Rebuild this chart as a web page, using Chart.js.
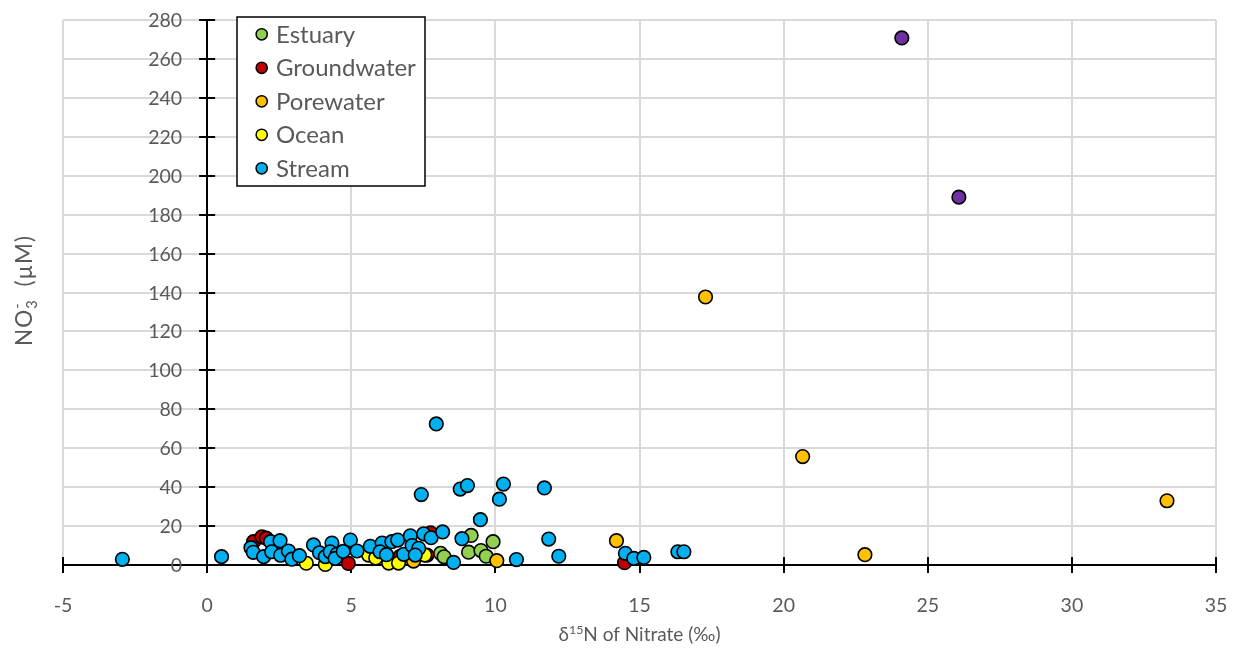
<!DOCTYPE html>
<html>
<head>
<meta charset="utf-8">
<script src="https://cdn.jsdelivr.net/npm/chart.js@4/dist/chart.umd.min.js"></script>
<style>
  html, body { margin: 0; padding: 0; background: #ffffff; }
  #wrap { width: 1235px; height: 649px; position: relative; }
</style>
</head>
<body>
<div id="wrap"><canvas id="chart" width="1235" height="649"></canvas></div>
<script>
// Sample groups (x = δ15N of nitrate in ‰, y = NO3- in µM)
const seriesNames = ['Estuary', 'Groundwater', 'Porewater', 'Ocean', 'Stream'];

const estuaryX = [8.10, 8.22, 9.16, 9.07, 9.50, 9.68, 9.92];
const estuaryY = [6.0, 4.2, 15.2, 6.6, 7.4, 4.5, 12.0];

const groundwaterX = [1.61, 1.90, 2.05, 4.90, 6.70, 7.63, 7.75, 14.48];
const groundwaterY = [12.0, 14.5, 13.8, 0.8, 4.5, 5.1, 16.5, 1.2];

const porewaterX = [17.29, 20.66, 33.30, 22.82, 14.20, 10.05, 7.16];
const porewaterY = [137.7, 55.7, 33.0, 5.3, 12.5, 2.2, 2.0];

const oceanX = [3.44, 4.10, 5.60, 5.85, 6.30, 6.64, 7.55];
const oceanY = [0.9, 0.3, 5.1, 3.6, 1.0, 1.0, 5.1];

const streamX = [-2.94, 0.50, 1.52, 1.60, 1.96, 2.20, 2.53, 2.24, 2.55, 2.82,
                 2.94, 3.20, 3.69, 3.90, 4.10, 4.33, 4.27, 4.50, 4.44, 4.72,
                 4.97, 5.20, 5.66, 6.07, 6.00, 6.22, 6.41, 6.61, 6.82, 7.05,
                 7.11, 7.34, 7.22, 7.51, 7.77, 8.17, 8.55, 8.84, 7.95, 7.43,
                 8.78, 9.03, 10.28, 10.14, 9.48, 11.70, 11.85, 12.20, 10.73, 14.51,
                 14.80, 15.15, 16.33, 16.54];
const streamY = [2.9, 4.3, 8.9, 6.5, 4.3, 12.0, 12.5, 6.8, 5.0, 7.2,
                 3.0, 4.8, 10.3, 6.3, 4.3, 11.3, 6.8, 5.5, 3.4, 7.0,
                 12.8, 7.2, 9.6, 11.3, 6.8, 5.3, 12.0, 12.8, 5.5, 15.0,
                 10.0, 8.6, 5.1, 16.0, 14.0, 17.0, 1.3, 13.5, 72.5, 36.2,
                 39.0, 40.8, 41.6, 33.8, 23.3, 39.6, 13.3, 4.5, 2.8, 6.0,
                 3.4, 3.9, 6.8, 6.8];

// Two high-nitrate samples plotted without a legend entry
const highX = [24.10, 26.08];
const highY = [270.8, 189.0];

// Axis ranges and tick steps
const xMin = -5, xMax = 35, xStep = 5;
const yMin = 0, yMax = 280, yStep = 20;

const fillColors = {
  Estuary: '#92D050',
  Groundwater: '#C00000',
  Porewater: '#FFC000',
  Ocean: '#FFFF00',
  Stream: '#00B0F0',
  High: '#7030A0'
};

const textColor = '#595959';
const fontFamily = 'Lato, "DejaVu Sans", sans-serif';
const tickFontSize = 19.5;

function toPoints(xs, ys) {
  return xs.map((x, i) => ({ x: x, y: ys[i] }));
}

function makeSet(label, xs, ys, color, order) {
  return {
    label: label,
    data: toPoints(xs, ys),
    backgroundColor: color,
    borderColor: '#000000',
    borderWidth: 1.6,
    pointRadius: 6.8,
    pointHoverRadius: 6.8,
    order: order,
    clip: false
  };
}

const datasets = [
  makeSet('Estuary', estuaryX, estuaryY, fillColors.Estuary, 4),
  makeSet('Groundwater', groundwaterX, groundwaterY, fillColors.Groundwater, 3),
  makeSet('Porewater', porewaterX, porewaterY, fillColors.Porewater, 2),
  makeSet('Ocean', oceanX, oceanY, fillColors.Ocean, 1),
  makeSet('Stream', streamX, streamY, fillColors.Stream, 0),
  makeSet('High', highX, highY, fillColors.High, 5)
];

// Draws a run of text pieces; each piece may be shrunk, raised/lowered or stacked
function drawRich(ctx, pieces, cx, cy, baseSize) {
  const fontOf = p => (baseSize * (p.scale || 1)) + 'px ' + fontFamily;
  let total = 0;
  const widths = pieces.map(p => {
    ctx.font = fontOf(p);
    const w = p.stack ? 0 : ctx.measureText(p.text).width + (p.gap || 0);
    total += w;
    return w;
  });
  let x = cx - total / 2;
  const baseline = cy + 0.36 * baseSize;
  pieces.forEach((p, i) => {
    ctx.font = fontOf(p);
    ctx.fillText(p.text, p.stack ? x - p.back : x, baseline + (p.shift || 0) * baseSize);
    x += widths[i];
  });
}

// Excel-style cross ticks, tick labels on the crossing axes, and both axis titles
const axisDecor = {
  id: 'axisDecor',
  beforeDatasetsDraw(chart) {
    const { ctx, scales: { x, y }, chartArea } = chart;
    const x0 = x.getPixelForValue(0);
    const y0 = y.getPixelForValue(0);
    const half = 8;
    ctx.save();
    ctx.strokeStyle = '#000000';
    ctx.lineWidth = 2;
    ctx.beginPath();
    x.ticks.forEach(t => {
      const px = Math.round(x.getPixelForValue(t.value));
      ctx.moveTo(px, y0 - half);
      ctx.lineTo(px, y0 + half);
    });
    y.ticks.forEach(t => {
      const py = Math.round(y.getPixelForValue(t.value));
      ctx.moveTo(x0 - half, py);
      ctx.lineTo(x0 + half, py);
    });
    ctx.stroke();

    ctx.fillStyle = textColor;
    ctx.font = tickFontSize + 'px ' + fontFamily;
    ctx.textBaseline = 'alphabetic';

    // y tick labels sit just left of the vertical axis
    ctx.textAlign = 'right';
    y.ticks.forEach(t => {
      const py = y.getPixelForValue(t.value);
      ctx.fillText(String(t.value), x0 - 25, py + 0.36 * tickFontSize);
    });

    // x tick labels below the horizontal axis
    ctx.textAlign = 'center';
    x.ticks.forEach(t => {
      const px = x.getPixelForValue(t.value);
      ctx.fillText(String(t.value), px, y0 + 40 + 0.36 * tickFontSize);
    });

    // axis titles
    ctx.textAlign = 'left';
    const midX = (chartArea.left + chartArea.right) / 2;
    drawRich(ctx, [
      { text: 'δ' },
      { text: '15', scale: 0.65, shift: -0.38 },
      { text: 'N of Nitrate (‰)' }
    ], midX, 634, 19);

    const midY = (chartArea.top + chartArea.bottom) / 2;
    ctx.save();
    ctx.translate(24, midY - 2);
    ctx.rotate(-Math.PI / 2);
    ctx.letterSpacing = '1px';
    const ySize = 22.5;
    ctx.font = (0.65 * ySize) + 'px ' + fontFamily;
    const w3 = ctx.measureText('3').width;
    drawRich(ctx, [
      { text: 'NO' },
      { text: '3', scale: 0.65, shift: 0.22, gap: 6 },
      { text: '-', scale: 0.65, shift: -0.45, stack: true, back: w3 + 6 },
      { text: ' (µM)' }
    ], 0, 0, ySize);
    ctx.restore();
    ctx.restore();
  }
};

// Boxed legend inside the plot area
const boxLegend = {
  id: 'boxLegend',
  afterDraw(chart) {
    const ctx = chart.ctx;
    const left = 237, top = 17, width = 188, height = 169;
    const rowGap = 33.5, firstRow = 34.3;
    const fs = 24;
    ctx.save();
    ctx.fillStyle = '#ffffff';
    ctx.fillRect(left, top, width, height);
    ctx.strokeStyle = '#000000';
    ctx.lineWidth = 1.5;
    ctx.strokeRect(left, top, width, height);
    seriesNames.forEach((name, i) => {
      const cy = firstRow + i * rowGap;
      ctx.beginPath();
      ctx.arc(261.7, cy, 5.6, 0, Math.PI * 2);
      ctx.fillStyle = fillColors[name];
      ctx.fill();
      ctx.lineWidth = 1.5;
      ctx.strokeStyle = '#000000';
      ctx.stroke();
      ctx.fillStyle = textColor;
      ctx.font = fs + 'px ' + fontFamily;
      ctx.textAlign = 'left';
      ctx.textBaseline = 'alphabetic';
      ctx.fillText(name, 276, cy + 0.36 * fs);
    });
    ctx.restore();
  }
};

const gridColor = (c) => (c.tick && c.tick.value === 0) ? 'rgba(0,0,0,0)' : '#d9d9d9';

new Chart(document.getElementById('chart'), {
  type: 'scatter',
  data: { datasets: datasets },
  options: {
    responsive: false,
    devicePixelRatio: 1,
    animation: false,
    events: [],
    layout: { autoPadding: false, padding: { left: 63, top: 20, right: 19, bottom: 84 } },
    plugins: {
      legend: { display: false },
      tooltip: { enabled: false }
    },
    scales: {
      x: {
        type: 'linear',
        position: 'bottom',
        min: xMin, max: xMax,
        ticks: { stepSize: xStep, display: false },
        grid: { color: gridColor, lineWidth: 2, drawTicks: false },
        border: { display: true, color: '#000000', width: 2 }
      },
      y: {
        type: 'linear',
        position: { x: 0 },
        min: yMin, max: yMax,
        ticks: { stepSize: yStep, display: false },
        grid: { color: gridColor, lineWidth: 2, drawTicks: false },
        border: { display: true, color: '#000000', width: 2 }
      }
    }
  },
  plugins: [axisDecor, boxLegend]
});
</script>
</body>
</html>
